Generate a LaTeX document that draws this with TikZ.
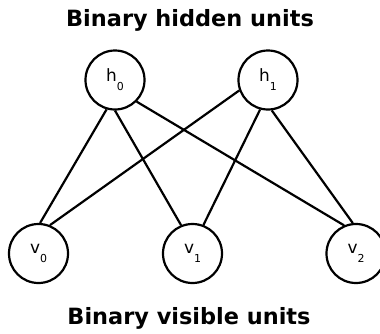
\documentclass[tikz,border=0pt]{standalone}
\usepackage{fontspec}
\setmainfont{DejaVu Sans}
\newcommand\ulab[2]{{\fontsize{17}{17}\selectfont #1}\raisebox{-9bp}{\fontsize{11}{11}\selectfont #2}}
\begin{document}
\begin{tikzpicture}[x=1bp,y=-1bp,
  unit/.style={circle,draw,line width=2.2bp,minimum size=59bp,inner sep=0pt},
  edge/.style={line width=2.2bp},
  ttl/.style={font=\fontsize{22.5}{26}\selectfont\bfseries,anchor=base,inner sep=0pt}]
\useasboundingbox (0,0) rectangle (380,334);
\node[ttl] (t1) at (190,26.5) {Binary hidden units};
\node[ttl] (t2) at (189,324.5) {Binary visible units};
\node[unit] (h0) at (115,80) {\ulab{h}{0}};
\node[unit] (h1) at (268,80) {\ulab{h}{1}};
\node[unit] (v0) at (38.5,253.5) {\ulab{v}{0}};
\node[unit] (v1) at (192.5,253.5) {\ulab{v}{1}};
\node[unit] (v2) at (356,253.5) {\ulab{v}{2}};
\draw[edge] (h0.254) -- (v0.87);
\draw[edge] (h0.270) -- (v1.112);
\draw[edge] (h0.315) -- (v2.113);
\draw[edge] (h1.200) -- (v0.68);
\draw[edge] (h1.255) -- (v1.69);
\draw[edge] (h1.277) -- (v2.96);
\end{tikzpicture}
\end{document}
